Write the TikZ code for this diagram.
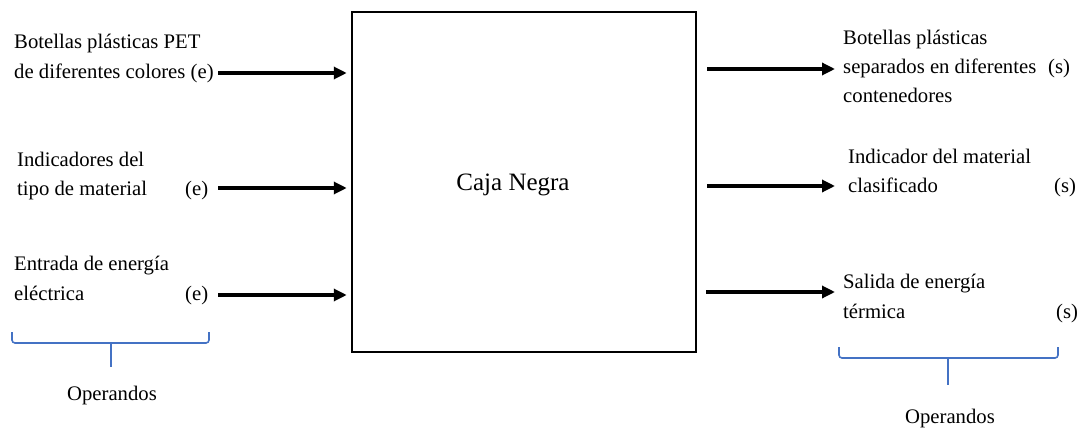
\documentclass[tikz,border=0pt]{standalone}
\usepackage{fontspec}
\setmainfont{Liberation Serif}
\usetikzlibrary{arrows.meta}
\definecolor{braceblue}{RGB}{68,114,196}
\begin{document}
\begin{tikzpicture}[x=1pt,y=-1pt,
  lbl/.style={anchor=base west,inner sep=0pt,font=\fontsize{20.7}{29.5}\selectfont},
  mid/.style={anchor=base,inner sep=0pt,font=\fontsize{20.7}{29.5}\selectfont},
  flow/.style={line width=3.2pt,-{Triangle[length=13pt,width=12pt]}},
  brace/.style={draw=braceblue,line width=1.6pt,rounded corners=3pt}]
\useasboundingbox (0,0) rectangle (1081,433);

% the black box
\node[draw,line width=2.5pt,minimum width=344pt,minimum height=340pt,inner sep=0pt] (caja) at (524,182) {};
\node[anchor=base,inner sep=0pt,font=\fontsize{25}{30}\selectfont] (cajatxt) at (513,190) {Caja Negra};

% inputs
\node[lbl] (in1a) at (14,49) {Botellas plásticas PET};
\node[lbl] (in1b) at (14,79) {de diferentes colores (e)};
\node[lbl] (in2a) at (17,166) {Indicadores del};
\node[lbl] (in2b) at (17,195) {tipo de material};
\node[lbl] (in2e) at (185,195) {(e)};
\node[lbl] (in3a) at (14,270) {Entrada de energía};
\node[lbl] (in3b) at (14,300) {eléctrica};
\node[lbl] (in3e) at (185,300) {(e)};

% outputs
\node[lbl] (out1a) at (843,45) {Botellas plásticas};
\node[lbl] (out1b) at (843,74) {separados en diferentes};
\node[lbl] (out1c) at (843,103) {contenedores};
\node[lbl] (out1s) at (1048,74) {(s)};
\node[lbl] (out2a) at (848,163) {Indicador del material};
\node[lbl] (out2b) at (848,192) {clasificado};
\node[lbl] (out2s) at (1054,192) {(s)};
\node[lbl] (out3a) at (843,288) {Salida de energía};
\node[lbl] (out3b) at (843,318) {térmica};
\node[lbl] (out3s) at (1056,318) {(s)};

% arrow end points
\coordinate (s1) at (218,73);
\coordinate (s2) at (218,188);
\coordinate (s3) at (218,295);
\coordinate (t1) at (835,69);
\coordinate (t2) at (835,186);
\coordinate (t3) at (835,292);

\draw[flow,shorten >=4pt] (s1) -- (caja.west |- s1);
\draw[flow,shorten >=4pt] (s2) -- (caja.west |- s2);
\draw[flow,shorten >=4pt] (s3) -- (caja.west |- s3);
\draw[flow,shorten <=10pt] (caja.east |- t1) -- (t1);
\draw[flow,shorten <=10pt] (caja.east |- t2) -- (t2);
\draw[flow,shorten <=9pt] (caja.east |- t3) -- (t3);

% operand braces
\draw[brace] (12,332) -- (12,343) -- (209,343) -- (209,332);
\coordinate (bl) at (111,367);
\draw[brace] (111,343) -- (bl);
\node[mid] (opl) at (112,400) {Operandos};

\draw[brace] (839,347) -- (839,358) -- (1058,358) -- (1058,347);
\coordinate (br) at (948,385);
\draw[brace] (948,358) -- (br);
\node[mid] (opr) at (950,423) {Operandos};
\end{tikzpicture}
\end{document}
